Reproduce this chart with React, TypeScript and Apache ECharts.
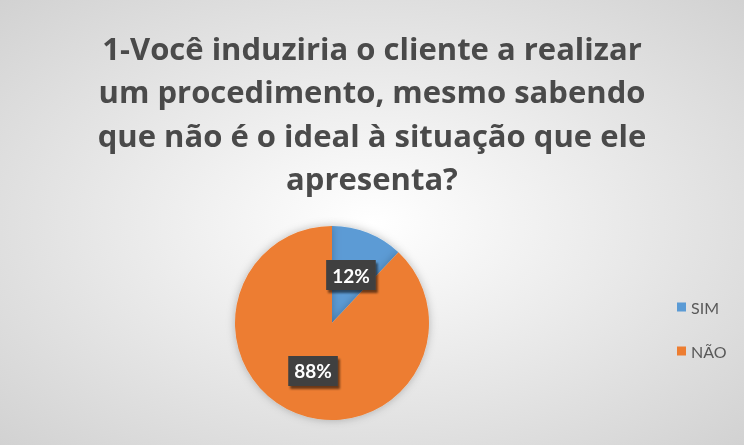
import React, { useRef, useEffect } from 'react';
import * as echarts from 'echarts';

const TITLE_LINES = [
  '1-Você induziria o cliente a realizar',
  'um procedimento, mesmo sabendo',
  'que não é o ideal à situação que ele',
  'apresenta?',
];
const CATEGORIES = ['SIM', 'NÃO'];
const VALUES = [12, 88];
const COLORS = ['#5B9BD5', '#ED7D31'];

const App: React.FC = () => {
  const chartRef = useRef<HTMLDivElement>(null);

  useEffect(() => {
    const chart = echarts.init(chartRef.current, null, { renderer: 'svg' });

    chart.setOption({
      animation: false,
      backgroundColor: {
        type: 'radial',
        x: 0.5,
        y: 0.5,
        r: 0.75,
        colorStops: [
          { offset: 0, color: '#ffffff' },
          { offset: 1, color: '#cfcfcf' },
        ],
      },
      title: {
        text: TITLE_LINES.join('\n'),
        left: 'center',
        top: 21,
        textStyle: {
          fontFamily: 'Open Sans',
          fontWeight: 'bold',
          fontSize: 31,
          lineHeight: 43.5,
          color: '#4a4a4a',
        },
      },
      legend: {
        orient: 'vertical',
        left: 672,
        top: 294,
        icon: 'rect',
        itemWidth: 9,
        itemHeight: 9,
        itemGap: 28,
        data: CATEGORIES,
        textStyle: { fontFamily: 'Lato', fontSize: 16, color: '#595959' },
      },
      series: [
        {
          type: 'pie',
          center: [332, 323],
          radius: 97,
          startAngle: 90,
          clockwise: true,
          color: COLORS,
          itemStyle: {
            shadowBlur: 8,
            shadowColor: 'rgba(0,0,0,0.25)',
          },
          label: {
            show: true,
            position: 'inside',
            formatter: '{d}%',
            fontFamily: 'Lato',
            fontWeight: 'bold',
            fontSize: 19,
            color: '#ffffff',
            backgroundColor: '#404040',
            padding: [6, 6, 5, 6],
            shadowColor: 'rgba(0,0,0,0.55)',
            shadowBlur: 2,
            shadowOffsetX: 2,
            shadowOffsetY: 3,
          },
          labelLine: { show: false },
          data: CATEGORIES.map((name, i) => ({ name, value: VALUES[i] })),
        },
      ],
    });

    return () => {
      chart.dispose();
    };
  }, []);

  return (
    <div
      ref={chartRef}
      style={{ position: 'fixed', left: 0, top: 0, width: '744px', height: '445px' }}
    />
  );
};

export default App;
